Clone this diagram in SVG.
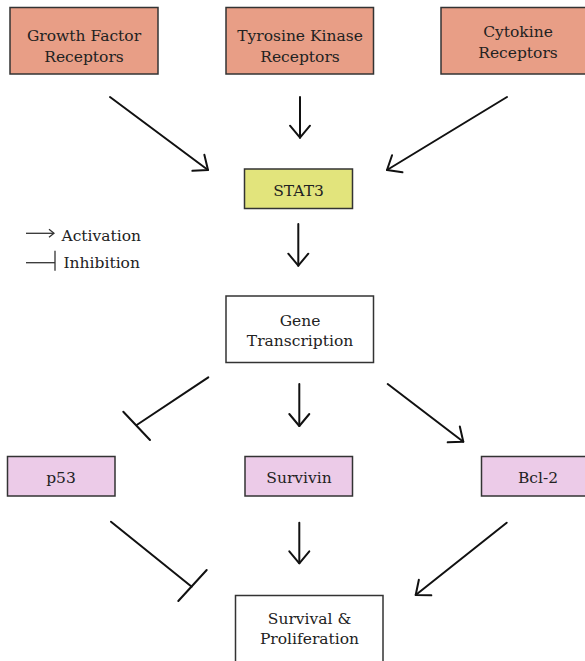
<svg xmlns="http://www.w3.org/2000/svg" width="585" height="661" viewBox="0 0 585 661">
  <defs>
    <style>
      .box { stroke: #333; stroke-width: 1.5; }
      .rec { fill: #E89E86; }
      .stat { fill: #E2E47C; }
      .pink { fill: #ECCBE8; }
      .white { fill: #ffffff; }
      .t { font-family: "DejaVu Serif", "Liberation Serif", serif; font-size: 15.5px; fill: #222; text-anchor: middle; }
      .lg { font-family: "DejaVu Serif", "Liberation Serif", serif; font-size: 15.5px; fill: #222; }
      .c { stroke: #111; stroke-width: 2; fill: none; stroke-linecap: round; }
      .cl { stroke: #333; stroke-width: 1.3; fill: none; }
    </style>
    <marker id="arr" markerUnits="userSpaceOnUse" viewBox="-14 -12 16 24" markerWidth="16" markerHeight="24" refX="0" refY="0" orient="auto">
      <path d="M-12,-10 L0,0 L-12,10" fill="none" stroke="#111" stroke-width="2" stroke-linecap="round" stroke-linejoin="round"/>
    </marker>
    <marker id="arrs" markerUnits="userSpaceOnUse" viewBox="-7 -6 8 12" markerWidth="8" markerHeight="12" refX="0" refY="0" orient="auto">
      <path d="M-5,-4 L0,0 L-5,4" fill="none" stroke="#333" stroke-width="1.3"/>
    </marker>
  </defs>
  <rect width="585" height="661" fill="#ffffff"/>

  <g id="growth-factor-receptors">
    <rect class="box rec" x="10" y="7.5" width="148" height="66.5"/>
    <text class="t" x="84" y="41">Growth Factor</text>
    <text class="t" x="84" y="62">Receptors</text>
  </g>
  <g id="tyrosine-kinase-receptors">
    <rect class="box rec" x="226" y="7.5" width="147.5" height="66.5"/>
    <text class="t" x="300" y="40.5">Tyrosine Kinase</text>
    <text class="t" x="300" y="62">Receptors</text>
  </g>
  <g id="cytokine-receptors">
    <rect class="box rec" x="441" y="7.5" width="150" height="66.5"/>
    <text class="t" x="518" y="36.5">Cytokine</text>
    <text class="t" x="518" y="57.5">Receptors</text>
  </g>
  <g id="stat3">
    <rect class="box stat" x="244.5" y="169" width="108" height="39.5"/>
    <text class="t" x="298.5" y="195.5">STAT3</text>
  </g>
  <g id="gene-transcription">
    <rect class="box white" x="226" y="296" width="147.5" height="66.5"/>
    <text class="t" x="300" y="325.5">Gene</text>
    <text class="t" x="300" y="345.5">Transcription</text>
  </g>
  <g id="p53">
    <rect class="box pink" x="7.5" y="456.5" width="107.5" height="39.5"/>
    <text class="t" x="61" y="482.5">p53</text>
  </g>
  <g id="survivin">
    <rect class="box pink" x="245" y="456.5" width="107.5" height="39.5"/>
    <text class="t" x="299" y="482.5">Survivin</text>
  </g>
  <g id="bcl-2">
    <rect class="box pink" x="481.5" y="456.5" width="110" height="39.5"/>
    <text class="t" x="538" y="482.5">Bcl-2</text>
  </g>
  <g id="survival-proliferation">
    <rect class="box white" x="235.5" y="595.5" width="147.5" height="75"/>
    <text class="t" x="309.5" y="624">Survival &amp;</text>
    <text class="t" x="309.5" y="643.5">Proliferation</text>
  </g>

  <g id="legend">
    <line class="cl" x1="26" y1="233.3" x2="54" y2="233.3" marker-end="url(#arrs)"/>
    <text class="lg" x="61.5" y="240.5">Activation</text>
    <line class="cl" x1="26" y1="262.7" x2="55" y2="262.7"/>
    <line class="cl" x1="55" y1="250.7" x2="55" y2="270.7"/>
    <text class="lg" x="63.5" y="267.5">Inhibition</text>
  </g>

  <g id="connectors">
    <line class="c" x1="110" y1="97" x2="208" y2="170" marker-end="url(#arr)"/>
    <line class="c" x1="300" y1="97" x2="300" y2="137.7" marker-end="url(#arr)"/>
    <line class="c" x1="507" y1="97" x2="387" y2="170" marker-end="url(#arr)"/>
    <line class="c" x1="298.3" y1="224" x2="298.3" y2="265.7" marker-end="url(#arr)"/>
    <line class="c" x1="208.3" y1="377.3" x2="136.7" y2="425"/>
    <line class="c" x1="123.3" y1="411.7" x2="150" y2="440"/>
    <line class="c" x1="299.3" y1="384" x2="299.3" y2="426" marker-end="url(#arr)"/>
    <line class="c" x1="387.7" y1="384" x2="463.3" y2="441.7" marker-end="url(#arr)"/>
    <line class="c" x1="111" y1="521.7" x2="191.7" y2="586.7"/>
    <line class="c" x1="206.7" y1="570" x2="178.3" y2="601"/>
    <line class="c" x1="299.3" y1="522.7" x2="299.3" y2="563.3" marker-end="url(#arr)"/>
    <line class="c" x1="506.7" y1="522.7" x2="415.7" y2="595" marker-end="url(#arr)"/>
  </g>
</svg>
